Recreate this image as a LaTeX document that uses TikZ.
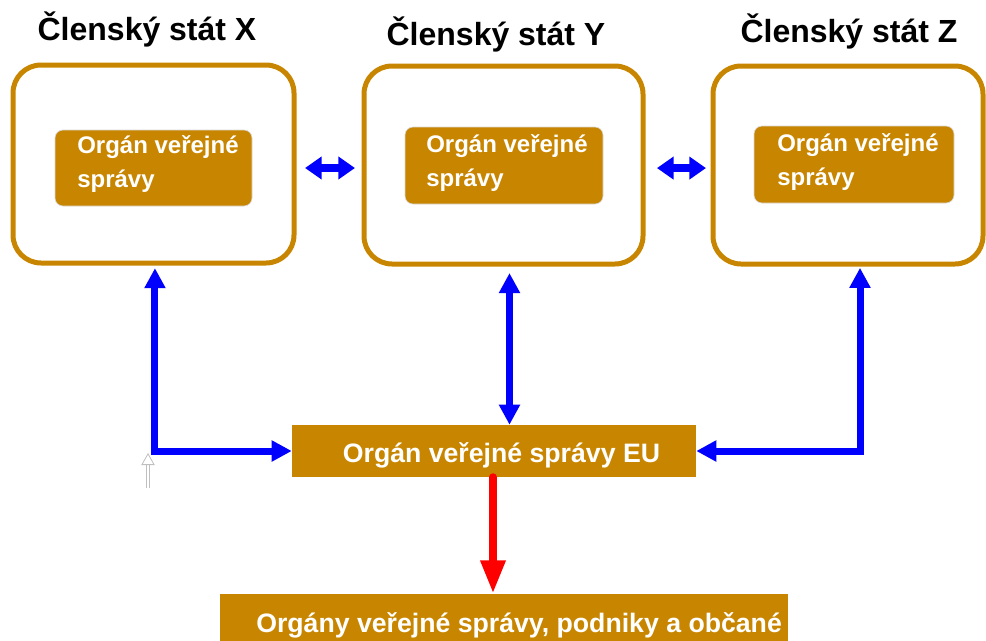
\documentclass[tikz,border=0pt]{standalone}
\usepackage{fontspec}
\setmainfont{Liberation Sans}
\usetikzlibrary{arrows.meta,calc}
\definecolor{gold}{RGB}{200,134,0}
\definecolor{arrblue}{RGB}{0,0,255}
\definecolor{arrred}{RGB}{255,0,0}
\tikzset{
  outerbox/.style={draw=gold, line width=3.75pt, rounded corners=21pt, fill=white},
  innerbox/.style={fill=gold, draw=black!15, line width=0.5pt, rounded corners=6pt},
  flatbox/.style={fill=gold, draw=none},
  titletext/.style={font=\bfseries\fontsize{24}{28}\selectfont, inner sep=0pt},
  innertext/.style={font=\bfseries\fontsize{18}{25.5}\selectfont, text=white, inner sep=0pt, align=left},
  boxtext/.style={font=\bfseries\fontsize{20}{24}\selectfont, text=white, inner sep=0pt},
  bluearr/.style={draw=arrblue, line width=5.25pt, {Triangle[length=15pt,width=15pt]}-{Triangle[length=15pt,width=15pt]}},
  smallbiarr/.style={draw=arrblue, line width=6pt, {Triangle[length=12.5pt,width=16.5pt]}-{Triangle[length=12.5pt,width=16.5pt]}},
  redarr/.style={draw=arrred, line width=6pt, line cap=round, -{Triangle[length=25pt,width=17.5pt]}},
  ghostarr/.style={draw=black!25, line width=0.6pt, double=white, double distance=1.4pt, -{Triangle[open,length=9pt,width=10pt]}}
}
\begin{document}
\begin{tikzpicture}[x=0.75pt,y=-0.75pt]
\useasboundingbox (0,0) rectangle (986,640);

% titles
\node[titletext, anchor=base] (tx) at (147,40) {Členský stát X};
\node[titletext, anchor=base] (ty) at (496,45) {Členský stát Y};
\node[titletext, anchor=base] (tz) at (849,42) {Členský stát Z};

% outer boxes
\node[outerbox, minimum width=281*0.75pt, minimum height=198*0.75pt] (OX) at (153.5,164) {};
\node[outerbox, minimum width=279*0.75pt, minimum height=198*0.75pt] (OY) at (503.5,165) {};
\node[outerbox, minimum width=270*0.75pt, minimum height=198*0.75pt] (OZ) at (848,165) {};

% inner boxes
\node[innerbox, minimum width=197*0.75pt, minimum height=76*0.75pt] (IX) at (153.5,168) {};
\node[innerbox, minimum width=198*0.75pt, minimum height=77*0.75pt] (IY) at (504,165.5) {};
\node[innerbox, minimum width=200*0.75pt, minimum height=77*0.75pt] (IZ) at (854,164.5) {};

\node[innertext, anchor=base west] (IXt) at (77,187) {Orgán veřejné\\správy};
\node[innertext, anchor=base west] (IYt) at (426,186) {Orgán veřejné\\správy};
\node[innertext, anchor=base west] (IZt) at (777,185) {Orgán veřejné\\správy};

% EU box
\node[flatbox, minimum width=404*0.75pt, minimum height=52*0.75pt] (EU) at (494,451) {};
\node[boxtext, anchor=base] (EUt) at (501.5,462) {Orgán veřejné správy EU};

% bottom box
\node[flatbox, minimum width=568*0.75pt, minimum height=56*0.75pt] (BOT) at (504,622) {};
\node[boxtext, anchor=base west] (BOTt) at (256,632) {Orgány veřejné správy, podniky a občané};

% blue arrows between states
\draw[smallbiarr, shorten <=6.4pt, shorten >=4.9pt]
  ([yshift=-3pt]OX.east) -- ([yshift=-3pt]OX.east -| OY.west);
\draw[smallbiarr, shorten <=8.6pt, shorten >=3.4pt]
  ([yshift=-2.3pt]OY.east) -- ([yshift=-2.3pt]OY.east -| OZ.west);

% X <-> EU
\draw[bluearr, shorten <=2pt]
  ([xshift=1.1pt]OX.south) -- ([xshift=1.1pt]OX.south |- EU.west) -- (EU.west);
% Y <-> EU
\draw[bluearr, shorten <=4.9pt]
  ([xshift=4.5pt]OY.south) -- ([xshift=4.5pt]OY.south |- EU.north);
% Z <-> EU
\draw[bluearr, shorten <=1pt]
  ([xshift=9pt]OZ.south) -- ([xshift=9pt]OZ.south |- EU.east) -- (EU.east);

% red arrow
\draw[redarr] ([xshift=-0.75pt]EU.south) -- ([xshift=-0.75pt]EU.south |- BOT.north);

% faint grey arrow
\coordinate (ga) at (148,488);
\coordinate (gb) at (148,453);
\draw[ghostarr] (ga) -- (gb);
\end{tikzpicture}
\end{document}
